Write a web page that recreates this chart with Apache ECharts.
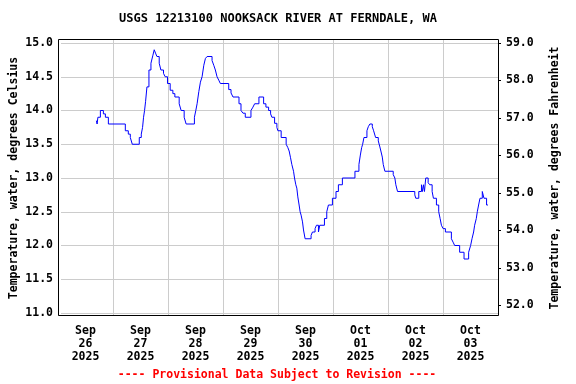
<!DOCTYPE html>
<html><head><meta charset="utf-8">
<script src="https://cdn.jsdelivr.net/npm/echarts@6/dist/echarts.min.js"></script>
<style>html,body{margin:0;padding:0;background:#fff}#c{width:576px;height:384px}</style>
</head><body><div id="c"></div>
<script>
const titleText = 'USGS 12213100 NOOKSACK RIVER AT FERNDALE, WA';
const footerText = '---- Provisional Data Subject to Revision ----';
const leftAxisName = 'Temperature, water, degrees Celsius';
const rightAxisName = 'Temperature, water, degrees Fahrenheit';
// hours since 2025-09-26 00:00 where each day label sits (noon)
const dayLabelHours = [12, 36, 60, 84, 108, 132, 156, 180];
const dayLabels = ['Sep\n26\n2025', 'Sep\n27\n2025', 'Sep\n28\n2025', 'Sep\n29\n2025',
                   'Sep\n30\n2025', 'Oct\n01\n2025', 'Oct\n02\n2025', 'Oct\n03\n2025'];
const celsiusTicks = [11, 11.5, 12, 12.5, 13, 13.5, 14, 14.5, 15];
const fahrenheitTicks = [52, 53, 54, 55, 56, 57, 58, 59];
// observation times (hours since 2025-09-26 00:00) and water temperature (deg C)
const hours = [15.55, 15.86, 16.21, 17.30, 18.62, 19.50, 20.81, 28.26, 29.57, 30.45,
  31.32, 34.39, 35.27, 35.84, 36.27, 36.71, 37.15, 37.76, 38.64, 39.52,
  40.39, 40.96, 41.53, 42.15, 43.15, 43.90, 45.04, 45.78, 46.79, 47.97,
  49.15, 50.03, 51.92, 52.79, 54.11, 54.98, 58.62, 59.23, 59.80, 60.55,
  61.25, 61.99, 62.74, 63.44, 64.18, 66.37, 67.12, 67.82, 68.56, 69.31,
  70.01, 73.69, 74.70, 75.57, 78.20, 79.08, 79.95, 80.96, 83.46, 84.33,
  85.08, 86.96, 89.02, 90.03, 91.21, 92.09, 92.66, 93.84, 94.85, 95.29,
  96.73, 98.92, 99.67, 100.24, 100.85, 101.42, 102.17, 102.60, 103.17, 103.61,
  104.05, 104.62, 105.06, 105.49, 106.11, 106.55, 107.25, 109.88, 110.49, 111.63,
  112.24, 113.12, 113.69, 115.75, 116.76, 117.50, 119.25, 120.83, 121.88, 123.63,
  129.15, 130.90, 131.52, 132.09, 132.53, 133.10, 134.41, 135.02, 135.72, 136.77,
  137.35, 138.22, 139.40, 140.10, 140.54, 141.16, 141.59, 142.30, 145.97, 146.68,
  147.11, 147.86, 155.44, 155.88, 157.19, 158.37, 158.81, 159.25, 159.69, 160.26,
  161.31, 162.01, 163.06, 163.63, 164.95, 165.95, 166.57, 167.14, 167.88, 168.89,
  171.52, 172.26, 172.96, 175.15, 177.08, 179.10, 179.97, 180.58, 181.29, 181.73,
  182.47, 182.91, 183.48, 184.09, 185.10, 185.84, 186.98, 187.59];
const tempC = [13.85, 13.8, 13.9, 14.0, 13.95, 13.9, 13.8, 13.7, 13.65, 13.6,
  13.5, 13.6, 13.65, 13.75, 13.9, 14.0, 14.13, 14.35, 14.6, 14.7,
  14.82, 14.9, 14.85, 14.8, 14.7, 14.6, 14.55, 14.5, 14.4, 14.3,
  14.25, 14.2, 14.1, 14.0, 13.9, 13.8, 13.9, 14.0, 14.1, 14.28,
  14.42, 14.5, 14.67, 14.77, 14.8, 14.74, 14.67, 14.6, 14.5, 14.45,
  14.4, 14.31, 14.26, 14.2, 14.1, 14.0, 13.96, 13.9, 14.0, 14.05,
  14.1, 14.2, 14.1, 14.05, 14.0, 13.95, 13.9, 13.81, 13.75, 13.7,
  13.6, 13.5, 13.45, 13.4, 13.3, 13.2, 13.1, 13.0, 12.9, 12.85,
  12.72, 12.6, 12.5, 12.45, 12.35, 12.23, 12.1, 12.15, 12.2, 12.25,
  12.3, 12.2, 12.3, 12.4, 12.5, 12.6, 12.7, 12.8, 12.9, 13.0,
  13.1, 13.2, 13.34, 13.45, 13.5, 13.6, 13.7, 13.76, 13.8, 13.76,
  13.7, 13.6, 13.55, 13.46, 13.4, 13.31, 13.2, 13.1, 13.05, 13.0,
  12.9, 12.8, 12.75, 12.7, 12.8, 12.9, 12.8, 12.9, 12.8, 13.0,
  12.93, 12.9, 12.8, 12.7, 12.6, 12.5, 12.4, 12.3, 12.25, 12.2,
  12.1, 12.05, 12.0, 11.9, 11.8, 11.9, 12.0, 12.1, 12.2, 12.3,
  12.4, 12.5, 12.6, 12.7, 12.8, 12.7, 12.6, 12.6];

const FONT = '"DejaVu Sans Mono", monospace';
const FS = 11.5;
const cToF = c => c * 1.8 + 32;
const chart = echarts.init(document.getElementById('c'), null, {renderer: 'canvas'});
const labelStyle = {fontFamily: FONT, fontSize: FS, fontWeight: 'bold', color: '#000'};

chart.setOption({
  animation: false,
  backgroundColor: '#fff',
  grid: [
    {left: 58, top: 43, width: 440, height: 270},
    {left: 58, top: 40, width: 440, height: 276}
  ],
  xAxis: [
    {gridIndex: 0, type: 'value', min: 0, max: 192, show: false},
    {gridIndex: 1, type: 'value', min: 0, max: 192, interval: 24,
     axisLine: {show: false}, axisTick: {show: false},
     splitLine: {show: true, lineStyle: {color: '#cccccc', width: 1}},
     axisLabel: Object.assign({
       customValues: dayLabelHours, margin: 9, lineHeight: 13, align: 'center',
       formatter: v => { const i = dayLabelHours.indexOf(v); return i >= 0 ? dayLabels[i] : ''; }
     }, labelStyle)}
  ],
  yAxis: [
    {gridIndex: 0, type: 'value', min: 11, max: 15, interval: 0.5,
     axisLine: {show: false}, axisTick: {show: false},
     splitLine: {show: true, lineStyle: {color: '#cccccc', width: 1}},
     axisLabel: Object.assign({margin: 8, formatter: v => v.toFixed(1)}, labelStyle),
     name: leftAxisName, nameLocation: 'middle', nameGap: 41, nameMoveOverlap: false,
     nameTextStyle: {fontFamily: FONT, fontSize: FS, fontWeight: 'bold', color: '#000'}},
    {gridIndex: 0, type: 'value', position: 'right', min: cToF(11), max: cToF(15),
     axisLine: {show: false},
     axisTick: {show: true, customValues: fahrenheitTicks, length: 3, inside: false,
                lineStyle: {color: '#000', width: 1}},
     splitLine: {show: false},
     axisLabel: Object.assign({customValues: fahrenheitTicks, margin: 8,
                               formatter: v => v.toFixed(1)}, labelStyle),
     name: rightAxisName, nameLocation: 'middle', nameGap: 51, nameMoveOverlap: false,
     nameTextStyle: {fontFamily: FONT, fontSize: FS, fontWeight: 'bold', color: '#000'}},
    {gridIndex: 1, type: 'value', min: 0, max: 1, show: false}
  ],
  graphic: [
    {type: 'rect', z: 100, silent: true,
     shape: {x: 58.5, y: 39.5, width: 440, height: 276},
     style: {fill: 'none', stroke: '#000', lineWidth: 1}},
    {type: 'text', x: 278, y: 19, z: 100,
     style: {text: titleText, font: 'bold 12px ' + FONT, fill: '#000', align: 'center', verticalAlign: 'middle'}},
    {type: 'text', x: 277, y: 375, z: 100,
     style: {text: footerText, font: 'bold ' + FS + 'px ' + FONT, fill: '#ff0000', align: 'center', verticalAlign: 'middle'}}
  ],
  series: [{
    type: 'line', xAxisIndex: 0, yAxisIndex: 0,
    data: hours.map((h, i) => [h, tempC[i]]),
    step: 'end', symbol: 'none', silent: true,
    lineStyle: {color: '#0000ff', width: 1}
  }]
});
</script></body></html>
